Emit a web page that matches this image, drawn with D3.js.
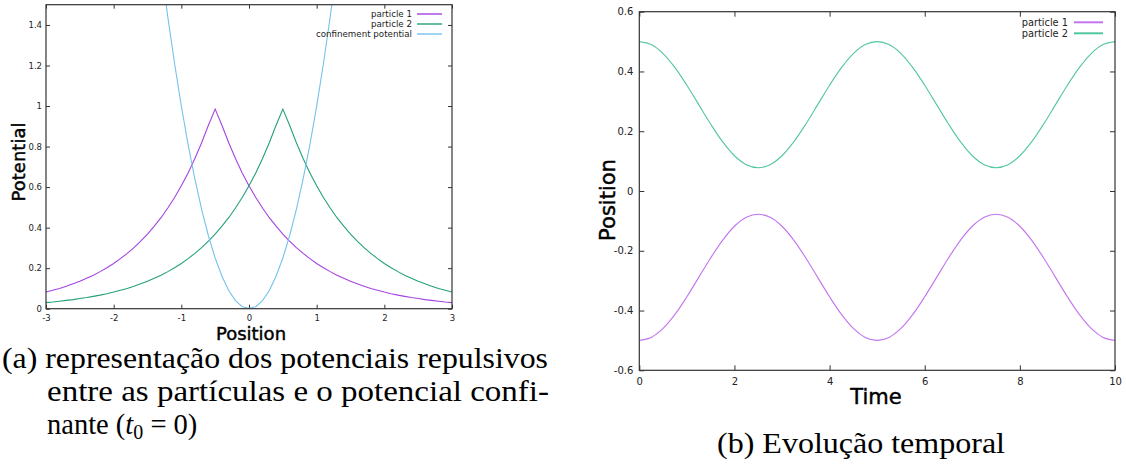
<!DOCTYPE html>
<html><head><meta charset="utf-8">
<script src="https://cdn.jsdelivr.net/npm/d3@7"></script>
<style>body{margin:0;background:#fff} svg{display:block}</style>
</head><body><svg id="c" width="1126" height="464"></svg>
<script>
// ---------- data: panel (a) ----------
const positionGrid = [-3.0,-2.9,-2.8,-2.7,-2.6,-2.5,-2.4,-2.3,-2.2,-2.1,-2.0,-1.9,-1.8,-1.7,-1.6,-1.5,-1.4,-1.3,-1.2,-1.1,-1.0,-0.9,-0.8,-0.7,-0.6,-0.5,-0.4,-0.3,-0.2,-0.1,0.0,0.1,0.2,0.3,0.4,0.5,0.6,0.7,0.8,0.9,1.0,1.1,1.2,1.3,1.4,1.5,1.6,1.7,1.8,1.9,2.0,2.1,2.2,2.3,2.4,2.5,2.6,2.7,2.8,2.9,3.0];
const particle1Potential = [0.082,0.091,0.100,0.111,0.123,0.135,0.150,0.165,0.183,0.202,0.223,0.247,0.273,0.301,0.333,0.368,0.407,0.449,0.497,0.549,0.607,0.670,0.741,0.819,0.905,0.985,0.905,0.819,0.741,0.670,0.607,0.549,0.497,0.449,0.407,0.368,0.333,0.301,0.273,0.247,0.223,0.202,0.183,0.165,0.150,0.135,0.123,0.111,0.100,0.091,0.082,0.074,0.067,0.061,0.055,0.050,0.045,0.041,0.037,0.033,0.030];
const particle2Potential = [0.030,0.033,0.037,0.041,0.045,0.050,0.055,0.061,0.067,0.074,0.082,0.091,0.100,0.111,0.123,0.135,0.150,0.165,0.183,0.202,0.223,0.247,0.273,0.301,0.333,0.368,0.407,0.449,0.497,0.549,0.607,0.670,0.741,0.819,0.905,0.985,0.905,0.819,0.741,0.670,0.607,0.549,0.497,0.449,0.407,0.368,0.333,0.301,0.273,0.247,0.223,0.202,0.183,0.165,0.150,0.135,0.123,0.111,0.100,0.091,0.082];
const confinementGrid = [-1.3,-1.2,-1.1,-1.0,-0.9,-0.8,-0.7,-0.6,-0.5,-0.4,-0.3,-0.2,-0.1,0.0,0.1,0.2,0.3,0.4,0.5,0.6,0.7,0.8,0.9,1.0,1.1,1.2,1.3];
const confinementPotential = [1.69,1.44,1.21,1.00,0.81,0.64,0.49,0.36,0.25,0.16,0.09,0.04,0.01,0.002,0.01,0.04,0.09,0.16,0.25,0.36,0.49,0.64,0.81,1.00,1.21,1.44,1.69];
const potXTicks = [-3,-2,-1,0,1,2,3];
const potYTicks = [0,0.2,0.4,0.6,0.8,1,1.2,1.4];
const potLegend = ["particle 1","particle 2","confinement potential"];

// ---------- data: panel (b) ----------
const timeGrid = [0,0.25,0.5,0.75,1,1.25,1.5,1.75,2,2.25,2.5,2.75,3,3.25,3.5,3.75,4,4.25,4.5,4.75,5,5.25,5.5,5.75,6,6.25,6.5,6.75,7,7.25,7.5,7.75,8,8.25,8.5,8.75,9,9.25,9.5,9.75,10];
const particle2Position = [0.500,0.490,0.460,0.413,0.354,0.289,0.224,0.165,0.118,0.088,0.078,0.088,0.118,0.165,0.224,0.289,0.354,0.413,0.460,0.490,0.500,0.490,0.460,0.413,0.354,0.289,0.224,0.165,0.118,0.088,0.078,0.088,0.118,0.165,0.224,0.289,0.354,0.413,0.460,0.490,0.500];
const particle1Position = [-0.500,-0.490,-0.460,-0.413,-0.354,-0.289,-0.224,-0.165,-0.118,-0.088,-0.078,-0.088,-0.118,-0.165,-0.224,-0.289,-0.354,-0.413,-0.460,-0.490,-0.500,-0.490,-0.460,-0.413,-0.354,-0.289,-0.224,-0.165,-0.118,-0.088,-0.078,-0.088,-0.118,-0.165,-0.224,-0.289,-0.354,-0.413,-0.460,-0.490,-0.500];
const timeXTicks = [0,2,4,6,8,10];
const timeYTicks = [-0.6,-0.4,-0.2,0,0.2,0.4,0.6];
const timeLegend = ["particle 1","particle 2"];

const captionA = ["(a) representação dos potenciais repulsivos","entre as partículas e o potencial confi-"];
const captionB = "(b) Evolução temporal";

// ---------- drawing ----------
const svg = d3.select("#c");
const SANS = "'DejaVu Sans', sans-serif";

function panel(cfg) {
  const g = svg.append("g");
  const x = d3.scaleLinear().domain(cfg.xDomain).range([cfg.left, cfg.right]);
  const y = d3.scaleLinear().domain(cfg.yDomain).range([cfg.bottom, cfg.top]);
  const clipId = "clip" + cfg.id;
  svg.append("clipPath").attr("id", clipId).append("rect")
    .attr("x", cfg.left).attr("y", cfg.top)
    .attr("width", cfg.right - cfg.left).attr("height", cfg.bottom - cfg.top);

  const fmt = d => String(d);
  const style = s => {
    s.select(".domain").remove();
    s.selectAll(".tick line").attr("stroke", "#333").attr("stroke-width", 1);
    s.selectAll(".tick text").attr("fill", "#222").style("font-family", SANS).style("font-size", cfg.tickFont + "px");
  };
  g.append("g").attr("transform", `translate(0,${cfg.bottom})`)
    .call(d3.axisBottom(x).tickValues(cfg.xTicks).tickSize(-cfg.tick).tickPadding(cfg.xPad).tickFormat(fmt)).call(style);
  g.append("g").attr("transform", `translate(0,${cfg.top})`)
    .call(d3.axisTop(x).tickValues(cfg.xTicks).tickSize(-cfg.tick).tickFormat(() => "")).call(style);
  g.append("g").attr("transform", `translate(${cfg.left},0)`)
    .call(d3.axisLeft(y).tickValues(cfg.yTicks).tickSize(-cfg.tick).tickPadding(cfg.yPad).tickFormat(fmt)).call(style);
  g.append("g").attr("transform", `translate(${cfg.right},0)`)
    .call(d3.axisRight(y).tickValues(cfg.yTicks).tickSize(-cfg.tick).tickFormat(() => "")).call(style);

  const lines = g.append("g").attr("clip-path", `url(#${clipId})`);
  cfg.series.forEach(s => {
    const pts = s.xs.map((v, i) => [v, s.ys[i]]);
    lines.append("path").datum(pts)
      .attr("fill", "none").attr("stroke", s.color).attr("stroke-width", 1.1)
      .attr("d", d3.line().x(d => x(d[0])).y(d => y(d[1])).curve(cfg.curve));
  });

  g.append("rect").attr("x", cfg.left).attr("y", cfg.top)
    .attr("width", cfg.right - cfg.left).attr("height", cfg.bottom - cfg.top)
    .attr("fill", "none").attr("stroke", "#333").attr("stroke-width", 1.2);

  // legend
  cfg.series.forEach((s, i) => {
    const ly = cfg.legY + i * cfg.legDy;
    g.append("text").attr("x", cfg.legTextX).attr("y", ly).attr("dy", "0.35em")
      .attr("text-anchor", "end").attr("fill", "#222")
      .style("font-family", SANS).style("font-size", cfg.legFont + "px").text(s.name);
    g.append("line").attr("x1", cfg.legLine[0]).attr("x2", cfg.legLine[1])
      .attr("y1", ly).attr("y2", ly).attr("stroke", s.color).attr("stroke-width", cfg.legWidth);
  });

  // axis titles
  const title = sel => sel.style("font-family", SANS).style("font-size", cfg.titleFont + "px")
    .attr("fill", "#000").attr("stroke", "#000").attr("stroke-width", 0.45);
  g.append("text").attr("x", cfg.xTitle[0]).attr("y", cfg.xTitle[1]).attr("text-anchor", "middle")
    .call(title).text(cfg.xLabel);
  g.append("text").attr("transform", `translate(${cfg.yTitle[0]},${cfg.yTitle[1]}) rotate(-90)`)
    .attr("text-anchor", "middle").call(title).text(cfg.yLabel);
}

panel({
  id: "a", left: 46, right: 452, top: 4.7, bottom: 308.7,
  xDomain: [-3, 3], yDomain: [0, 1.5], xTicks: potXTicks, yTicks: potYTicks,
  tick: 4, xPad: 6, yPad: 4, tickFont: 8.5, curve: d3.curveLinear,
  series: [
    {name: potLegend[0], xs: positionGrid, ys: particle1Potential, color: "#a444e0"},
    {name: potLegend[1], xs: positionGrid, ys: particle2Potential, color: "#23a07a"},
    {name: potLegend[2], xs: confinementGrid, ys: confinementPotential, color: "#74c2ec"}
  ],
  legY: 14, legDy: 10, legTextX: 412, legLine: [417, 442], legFont: 8.7, legWidth: 1.4,
  xLabel: "Position", yLabel: "Potential", xTitle: [251, 340], yTitle: [25, 162], titleFont: 18
});

panel({
  id: "b", left: 639.3, right: 1115, top: 11.7, bottom: 370.3,
  xDomain: [0, 10], yDomain: [-0.6, 0.6], xTicks: timeXTicks, yTicks: timeYTicks,
  tick: 5, xPad: 8, yPad: 6, tickFont: 10, curve: d3.curveCatmullRom,
  series: [
    {name: timeLegend[0], xs: timeGrid, ys: particle1Position, color: "#c274ee"},
    {name: timeLegend[1], xs: timeGrid, ys: particle2Position, color: "#52c6a2"}
  ],
  legY: 22.3, legDy: 11, legTextX: 1068, legLine: [1074, 1103], legFont: 9.8, legWidth: 2,
  xLabel: "Time", yLabel: "Position", xTitle: [876, 404], yTitle: [615, 200], titleFont: 21
});

// captions
const SERIF = "'Liberation Serif', 'Times New Roman', serif";
const cap = svg.append("g").style("font-family", SERIF).style("font-size", "28.5px").attr("fill", "#000");
cap.append("text").attr("x", 2).attr("y", 368).attr("textLength", 546).attr("lengthAdjust", "spacingAndGlyphs").text(captionA[0]);
cap.append("text").attr("x", 47).attr("y", 401).attr("textLength", 502).attr("lengthAdjust", "spacingAndGlyphs").text(captionA[1]);
const l3 = cap.append("text").attr("x", 47).attr("y", 434);
l3.append("tspan").text("nante (");
l3.append("tspan").style("font-style", "italic").text("t");
l3.append("tspan").attr("dy", 5).style("font-size", "20px").text("0");
l3.append("tspan").attr("dy", -5).text(" = 0)");
cap.append("text").attr("x", 717).attr("y", 453).attr("textLength", 288).attr("lengthAdjust", "spacingAndGlyphs").text(captionB);
</script>
</body></html>
